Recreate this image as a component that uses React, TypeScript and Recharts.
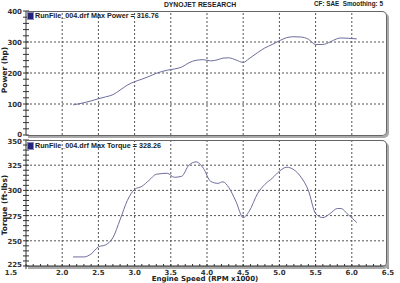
import React from 'react';
import { LineChart, Line, XAxis, YAxis, ReferenceLine } from 'recharts';

// engine speed (RPM x1000)
const rpm = [
  2.15, 2.3, 2.4, 2.5, 2.6, 2.7, 2.8, 2.9, 3.0, 3.1, 3.2, 3.3, 3.45, 3.55, 3.65, 3.75, 3.85, 3.95,
  4.05, 4.15, 4.22, 4.3, 4.4, 4.5, 4.58, 4.7, 4.8, 4.9, 5.0, 5.1, 5.2, 5.3, 5.4, 5.5, 5.6, 5.7,
  5.8, 5.85, 5.95, 6.07,
];

const power = [
  97, 104, 110, 117, 123, 130, 145, 161, 172, 180, 189, 199, 209, 213, 219, 233, 241, 243,
  239, 243, 248, 249, 242, 234, 246, 266, 281, 292, 304, 314, 317, 316, 309, 292, 292, 300,
  311, 313, 312, 310,
];

const torque = [
  234, 234, 237, 244, 246, 253, 271, 290, 301, 304, 310, 316, 317, 313, 314, 325, 328.3, 322,
  309, 307, 308.5, 303, 289, 273, 279, 297, 306, 312, 319, 323, 320.5, 313, 300, 277, 273, 277,
  282, 282, 276, 268,
];

const xMajor = [1.5, 2.0, 2.5, 3.0, 3.5, 4.0, 4.5, 5.0, 5.5, 6.0, 6.5];
const powerMajor = [0, 100, 200, 300, 400];
const torqueMajor = [225, 250, 275, 300, 325, 350];

const title = 'DYNOJET RESEARCH';
const subTitle = 'CF: SAE  Smoothing: 5';
const powerLegend = 'RunFile_004.drf Max Power = 316.76';
const torqueLegend = 'RunFile_004.drf Max Torque = 328.26';

const data = rpm.map((r, i) => ({ rpm: r, power: power[i], torque: torque[i] }));

// minor ticks: 5 steps between each major label
const subdivide = (major: number[], steps: number) => {
  const out: number[] = [];
  for (let i = 0; i < major.length - 1; i++) {
    const step = (major[i + 1] - major[i]) / steps;
    for (let k = 0; k < steps; k++) out.push(+(major[i] + step * k).toFixed(3));
  }
  out.push(major[major.length - 1]);
  return out;
};

const FONT = '"DejaVu Sans", Verdana, sans-serif';
const NARROW = '"Liberation Sans", Arial, sans-serif';
const LINE = '#6d6d9c';
const GRID = '#555';

// nudge labels that sit where panels / axes meet
const yNudge: Record<number, number> = { 0: -1, 350: 1, 225: -2 };

const makeYTick = (major: number[]) => (props: any) => {
  const { x, y, payload } = props;
  const isMajor = major.includes(payload.value);
  const dy = yNudge[payload.value] ?? 0;
  return (
    <g>
      <line x1={x - 3} x2={x + 3} y1={y} y2={y} stroke="#333" />
      {isMajor && (
        <text x={x - 4} y={y + 3 + dy} textAnchor="end" fontSize={7} fontWeight="bold" fill="#333" fontFamily={FONT}>
          {payload.value}
        </text>
      )}
    </g>
  );
};

const renderXTick = (props: any) => {
  const { x, y, payload } = props;
  const isMajor = xMajor.includes(payload.value);
  const shift = payload.value === 1.5 ? -15 : 0;
  return (
    <g>
      <line x1={x} x2={x} y1={y - 2} y2={y + 3} stroke="#333" />
      {isMajor && (
        <text x={x + shift} y={y + 8.5} textAnchor="middle" fontSize={7} fontWeight="bold" fill="#333" fontFamily={FONT}>
          {payload.value.toFixed(1)}
        </text>
      )}
    </g>
  );
};

const frameStyle = (top: number, height: number): React.CSSProperties => ({
  position: 'absolute',
  left: 26,
  top,
  width: 360,
  height,
  border: '1px solid #666',
  borderLeft: 'none',
  borderRadius: '0 5px 5px 0',
  boxShadow: '2px 2px 0 #aaa',
  pointerEvents: 'none',
});

const textStyle = (left: number, top: number): React.CSSProperties => ({
  position: 'absolute',
  left,
  top,
  fontFamily: FONT,
  fontWeight: 'bold',
  fontSize: 7,
  color: '#222',
  whiteSpace: 'pre',
  lineHeight: '8px',
});

const LegendTag = ({ top, label }: { top: number; label: string }) => (
  <div style={{ ...textStyle(27, top), display: 'flex', alignItems: 'center' }}>
    <span style={{ display: 'inline-block', width: 5, height: 6, background: '#23237a', border: '1px solid #8888bb', marginRight: 1 }} />
    <span style={{ fontFamily: NARROW, fontSize: 7.2 }}>{label}</span>
  </div>
);

const AxisTitle = ({ cy, label }: { cy: number; label: string }) => (
  <div
    style={{
      ...textStyle(5, cy),
      fontSize: 7.5,
      transform: 'translate(-50%, -50%) rotate(-90deg)',
    }}
  >
    {label}
  </div>
);

export default function App() {
  return (
    <div style={{ position: 'absolute', left: 0, top: 0, width: 400, height: 283, background: '#fff', overflow: 'hidden' }}>
      <div style={{ ...textStyle(0, 1), width: 400, textAlign: 'center', fontFamily: NARROW, fontSize: 6.8 }}>{title}</div>
      <div style={{ ...textStyle(314, 0), fontFamily: NARROW, fontSize: 6.3 }}>{subTitle}</div>

      <div style={{ position: 'absolute', left: 0, top: 0 }}>
        <LineChart width={400} height={140} data={data} margin={{ top: 11, right: 12, bottom: 5, left: 0 }}>
          <XAxis dataKey="rpm" type="number" domain={[1.5, 6.5]} hide />
          <YAxis
            type="number"
            domain={[0, 400]}
            ticks={subdivide(powerMajor, 5)}
            interval={0}
            width={26}
            tickSize={0}
            tickMargin={0}
            tickLine={false}
            tick={makeYTick(powerMajor)}
            axisLine={{ stroke: '#333' }}
          />
          {xMajor.slice(1, -1).map((v) => (
            <ReferenceLine key={`px-${v}`} x={v} stroke={GRID} strokeDasharray="2 2" />
          ))}
          {powerMajor.slice(1, -1).map((v) => (
            <ReferenceLine key={`py-${v}`} y={v} stroke={GRID} strokeDasharray="2 2" />
          ))}
          <Line type="monotone" dataKey="power" stroke={LINE} strokeWidth={1} dot={false} isAnimationActive={false} />
        </LineChart>
      </div>

      <div style={{ position: 'absolute', left: 0, top: 0 }}>
        <LineChart width={400} height={283} data={data} margin={{ top: 140, right: 12, bottom: 0, left: 0 }}>
          <XAxis
            dataKey="rpm"
            type="number"
            domain={[1.5, 6.5]}
            ticks={subdivide(xMajor, 5)}
            interval={0}
            height={17}
            tickSize={0}
            tickMargin={0}
            tickLine={false}
            tick={renderXTick}
            axisLine={{ stroke: '#333' }}
          />
          <YAxis
            type="number"
            domain={[225, 350]}
            ticks={subdivide(torqueMajor, 5)}
            interval={0}
            width={26}
            tickSize={0}
            tickMargin={0}
            tickLine={false}
            tick={makeYTick(torqueMajor)}
            axisLine={{ stroke: '#333' }}
          />
          {xMajor.slice(1, -1).map((v) => (
            <ReferenceLine key={`tx-${v}`} x={v} stroke={GRID} strokeDasharray="2 2" />
          ))}
          {torqueMajor.slice(1, -1).map((v) => (
            <ReferenceLine key={`ty-${v}`} y={v} stroke={GRID} strokeDasharray="2 2" />
          ))}
          <Line type="monotone" dataKey="torque" stroke={LINE} strokeWidth={1} dot={false} isAnimationActive={false} />
        </LineChart>
      </div>

      <div style={frameStyle(11, 123)} />
      <div style={frameStyle(140, 125)} />

      <LegendTag top={12} label={powerLegend} />
      <LegendTag top={142} label={torqueLegend} />

      <AxisTitle cy={70} label="Power (hp)" />
      <AxisTitle cy={205} label="Torque (ft-lbs)" />
      <div style={{ ...textStyle(0, 276), width: 400, textAlign: 'center', paddingLeft: 10, boxSizing: 'border-box', lineHeight: '7px' }}>
        Engine Speed (RPM x1000)
      </div>
    </div>
  );
}
